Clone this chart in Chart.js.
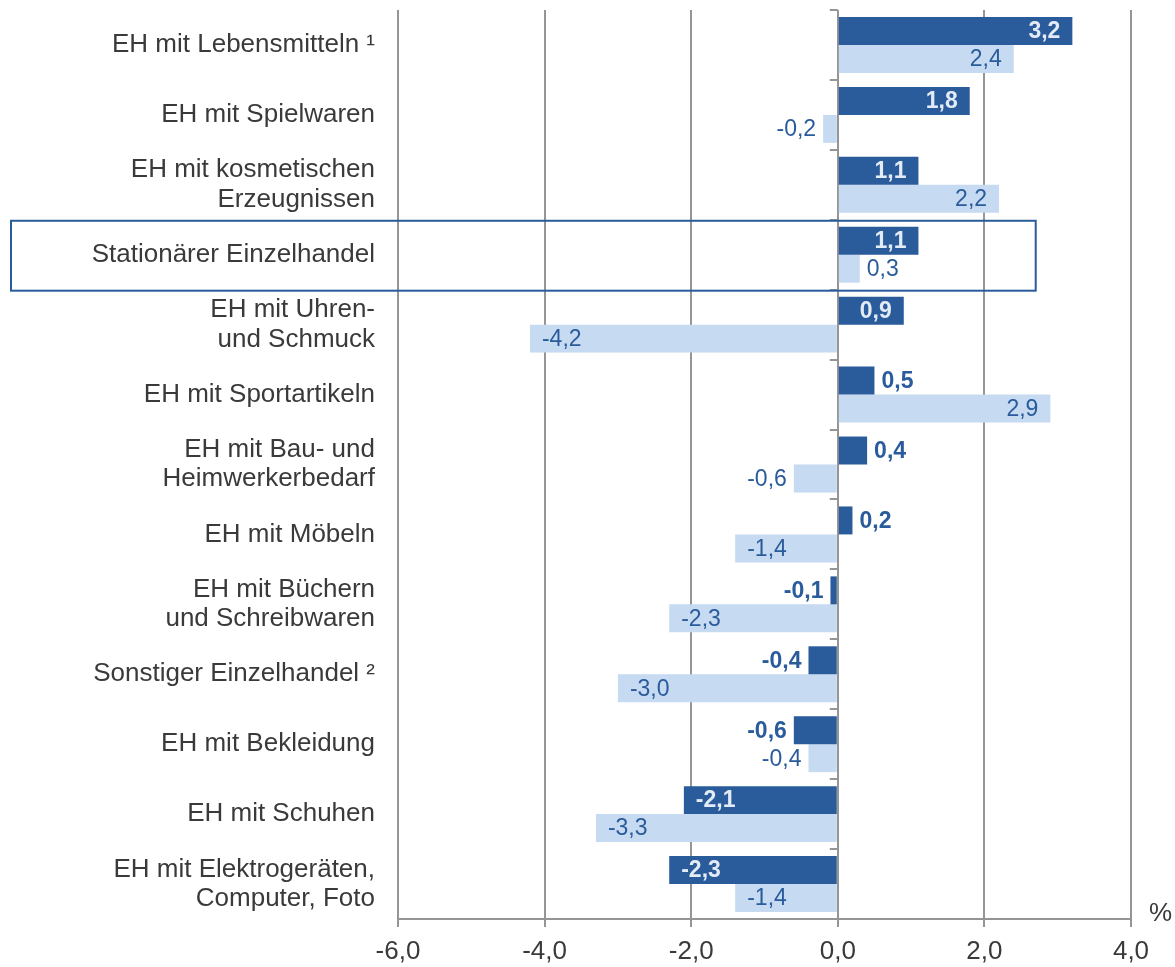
<!DOCTYPE html>
<html lang="de">
<head>
<meta charset="utf-8">
<title>Umsatzentwicklung Einzelhandel</title>
<script src="https://cdn.jsdelivr.net/npm/chart.js@4/dist/chart.umd.min.js"></script>
<style>
  html, body { margin: 0; padding: 0; background: #fff; }
  #wrap { width: 1175px; height: 967px; }
</style>
</head>
<body>
<div id="wrap"><canvas id="salesChart" width="1175" height="967"></canvas></div>
<script>
// 📊 Einzelhandel - Veränderung in %

const categories = [
  'EH mit Lebensmitteln ¹',
  'EH mit Spielwaren',
  ['EH mit kosmetischen', 'Erzeugnissen'],
  'Stationärer Einzelhandel',
  ['EH mit Uhren-', 'und Schmuck'],
  'EH mit Sportartikeln',
  ['EH mit Bau- und', 'Heimwerkerbedarf'],
  'EH mit Möbeln',
  ['EH mit Büchern', 'und Schreibwaren'],
  'Sonstiger Einzelhandel ²',
  'EH mit Bekleidung',
  'EH mit Schuhen',
  ['EH mit Elektrogeräten,', 'Computer, Foto']
];
const currentValues = [3.2, 1.8, 1.1, 1.1, 0.9, 0.5, 0.4, 0.2, -0.1, -0.4, -0.6, -2.1, -2.3];
const previousValues = [2.4, -0.2, 2.2, 0.3, -4.2, 2.9, -0.6, -1.4, -2.3, -3.0, -0.4, -3.3, -1.4];
const xTicks = [-6, -4, -2, 0, 2, 4];
const highlightIndex = 3;

const DARK = '#2a5b9b';
const LIGHT = '#c6daf1';
const TEXT = '#3a3a3a';
const GRID = '#959595';
const FONT = '"Liberation Sans", Arial, sans-serif';

function fmt(v) {
  return v.toFixed(1).replace('.', ',');
}

/**
 * Datenbeschriftungen: innen am Balkenende wenn Platz, sonst außen
 */
const barLabels = {
  id: 'barLabels',
  afterDatasetsDraw(chart) {
    const ctx = chart.ctx;
    ctx.save();
    ctx.textBaseline = 'middle';
    ctx.textAlign = 'left';
    chart.data.datasets.forEach((ds, di) => {
      const meta = chart.getDatasetMeta(di);
      const bold = di === 0;
      ctx.font = (bold ? 'bold ' : '') + '23px ' + FONT;
      meta.data.forEach((bar, i) => {
        const v = ds.data[i];
        const txt = fmt(v);
        const w = ctx.measureText(txt).width;
        const len = Math.abs(bar.x - bar.base);
        const inside = len >= w + 22;
        const dir = v >= 0 ? 1 : -1;
        let x;
        if (inside) {
          ctx.fillStyle = bold ? '#e2ebf6' : DARK;
          x = dir > 0 ? bar.x - 12 - w : bar.x + 12;
        } else {
          ctx.fillStyle = DARK;
          x = dir > 0 ? bar.x + 7 : bar.x - 7 - w;
        }
        ctx.fillText(txt, x, bar.y + 1);
      });
    });
    ctx.restore();
  }
};

/**
 * Nulllinie mit Teilstrichen, Rahmen um Stationären Einzelhandel, Einheit %
 */
const extras = {
  id: 'extras',
  afterDraw(chart) {
    const ctx = chart.ctx;
    const xs = chart.scales.x;
    const ys = chart.scales.y;
    const area = chart.chartArea;
    const x0 = xs.getPixelForValue(0);
    const step = (ys.bottom - ys.top) / categories.length;

    ctx.save();
    // Teilstriche an der Nulllinie
    ctx.strokeStyle = GRID;
    ctx.lineWidth = 2;
    ctx.beginPath();
    for (let i = 0; i <= categories.length; i++) {
      const y = Math.round(ys.top + i * step);
      ctx.moveTo(x0 - 8, y);
      ctx.lineTo(x0, y);
    }
    ctx.stroke();

    // Rahmen
    const yc = ys.getPixelForValue(highlightIndex);
    ctx.strokeStyle = DARK;
    ctx.lineWidth = 2;
    ctx.strokeRect(11, yc - step / 2 + 1, xs.getPixelForValue(2.7) - 11, step);

    // Einheit
    ctx.fillStyle = TEXT;
    ctx.font = '26px ' + FONT;
    ctx.textAlign = 'left';
    ctx.textBaseline = 'bottom';
    ctx.fillText('%', area.right + 18, area.bottom + 8);
    ctx.restore();
  }
};

function buildChart() {
  const ctx = document.getElementById('salesChart').getContext('2d');
  return new Chart(ctx, {
    type: 'bar',
    data: {
      labels: categories,
      datasets: [
        {
          label: 'Aktuell',
          data: currentValues,
          backgroundColor: DARK,
          categoryPercentage: 0.8,
          barPercentage: 1.0
        },
        {
          label: 'Vorjahr',
          data: previousValues,
          backgroundColor: LIGHT,
          categoryPercentage: 0.8,
          barPercentage: 1.0
        }
      ]
    },
    options: {
      indexAxis: 'y',
      responsive: false,
      animation: false,
      layout: { padding: { top: 10, right: 44, left: 0, bottom: 0 } },
      plugins: {
        legend: { display: false },
        tooltip: { enabled: false }
      },
      scales: {
        x: {
          min: xTicks[0],
          max: xTicks[xTicks.length - 1],
          afterBuildTicks: (scale) => { scale.ticks = xTicks.map(v => ({ value: v })); },
          grid: { color: GRID, lineWidth: 2, tickLength: 8 },
          border: { color: GRID, width: 2 },
          ticks: {
            color: TEXT,
            font: { family: FONT, size: 26 },
            padding: 9,
            maxRotation: 0,
            callback: (v) => fmt(v)
          },
          afterFit: (scale) => { scale.height = 48; }
        },
        y: {
          grid: { display: false },
          border: { display: false },
          ticks: {
            color: TEXT,
            font: { family: FONT, size: 26, lineHeight: 1.13 },
            padding: 15
          },
          afterFit: (scale) => {
            scale.width = 398;
            scale.paddingTop = 0;
            scale.paddingBottom = 0;
          }
        }
      }
    },
    plugins: [barLabels, extras]
  });
}

buildChart();
console.log('✅ Chart loaded');
</script>
</body>
</html>
